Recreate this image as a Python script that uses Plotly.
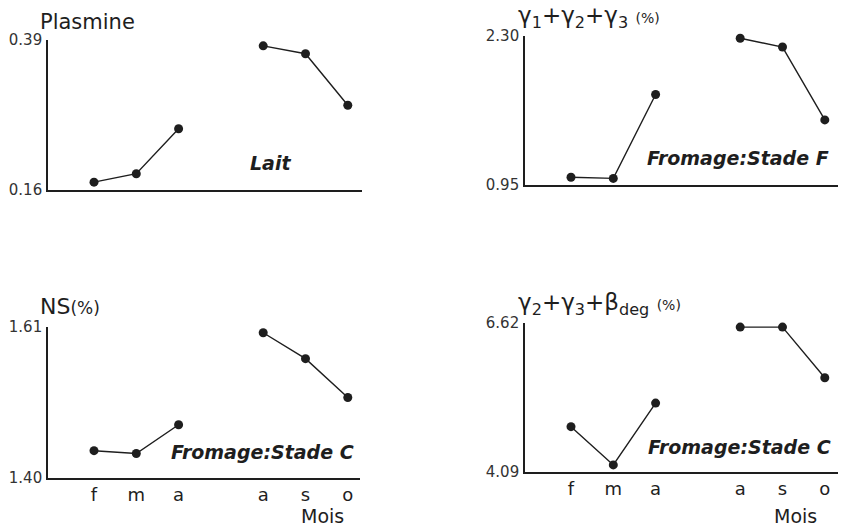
import plotly.graph_objects as go

# ---- data ----
months_1 = ["f", "m", "a"]
months_2 = ["a", "s", "o"]

plasmine_1 = [0.172, 0.185, 0.254]
plasmine_2 = [0.381, 0.369, 0.290]
gamma123_1 = [1.02, 1.01, 1.77]
gamma123_2 = [2.28, 2.20, 1.54]
ns_1 = [1.438, 1.434, 1.474]
ns_2 = [1.602, 1.566, 1.512]
g23b_1 = [4.86, 4.21, 5.26]
g23b_2 = [6.55, 6.55, 5.69]

yticks_plasmine = [0.16, 0.39]
yticks_gamma123 = [0.95, 2.30]
yticks_ns = [1.40, 1.61]
yticks_g23b = [4.09, 6.62]

# numeric positions for the months (gap between the two periods)
x1 = [i + 1 for i in range(len(months_1))]
x2 = [i + 2 + len(months_1) for i in range(len(months_2))]
xticks = x1 + x2
xlabels = months_1 + months_2

W, H = 843, 528
INK = "#1e1e1e"
FONT = "DejaVu Sans, Liberation Sans, sans-serif"

panels = [
    ("", plasmine_1, plasmine_2, yticks_plasmine, (48, 362), (40, 190), False),
    ("2", gamma123_1, gamma123_2, yticks_gamma123, (525, 838), (36, 185), False),
    ("3", ns_1, ns_2, yticks_ns, (48, 360), (327, 478), True),
    ("4", g23b_1, g23b_2, yticks_g23b, (525, 838), (323, 472), True),
]

fig = go.Figure()
layout = {}
for suf, s1, s2, yt, xd, yd, showx in panels:
    xa = "x" + suf
    ya = "y" + suf
    for xs, ys in ((x1, s1), (x2, s2)):
        fig.add_trace(go.Scatter(
            x=xs, y=ys, xaxis=xa, yaxis=ya, mode="lines+markers",
            line=dict(color=INK, width=1.4),
            marker=dict(color=INK, size=9),
            cliponaxis=False, showlegend=False, hoverinfo="skip"))
    left_px, right_px = xd
    unit = 42.3
    x_lo = x1[0] - 46 / unit
    x_hi = x_lo + (right_px - left_px) / unit
    layout["xaxis" + suf] = dict(
        domain=[left_px / W, right_px / W], anchor=ya, range=[x_lo, x_hi],
        showline=True, linecolor=INK, linewidth=1.6, showgrid=False, zeroline=False,
        tickmode="array", tickvals=xticks, ticktext=xlabels, ticks="",
        showticklabels=showx, tickfont=dict(family=FONT, size=18, color=INK),
        automargin=False, fixedrange=True)
    top_px, bot_px = yd
    layout["yaxis" + suf] = dict(
        domain=[1 - bot_px / H, 1 - top_px / H], anchor=xa, range=yt,
        showline=True, linecolor=INK, linewidth=1.6, showgrid=False, zeroline=False,
        tickmode="array", tickvals=yt, ticktext=["%.2f" % v for v in yt], ticks="",
        ticklabelstandoff=1, automargin=False,
        tickfont=dict(family=FONT, size=15, color="#333333"), fixedrange=True)

fig.update_layout(**layout)

anns = []
def ann(text, x, y, size, xanchor="left", italic=False, bold=False):
    anns.append(dict(text=text, x=x / W, y=1 - y / H, xref="paper", yref="paper",
                     xanchor=xanchor, yanchor="middle", showarrow=False,
                     font=dict(family=FONT, size=size, color=INK,
                               style="italic" if italic else "normal",
                               weight=700 if bold else 400)))

# titles
ann("Plasmine", 38, 22, 21)
ann("γ<sub>1</sub>+γ<sub>2</sub>+γ<sub>3</sub> <span style='font-size:14px'>(%)</span>", 516, 17, 23)
ann("NS<span style='font-size:17px'>(%)</span>", 38, 306, 22)
ann("γ<sub>2</sub>+γ<sub>3</sub>+β<sub>deg</sub> <span style='font-size:14px'>(%)</span>", 516, 304, 23)

# notes
ann("Lait", 248, 163, 19, italic=True, bold=True)
ann("Fromage:Stade F", 645, 158, 19, italic=True, bold=True)
ann("Fromage:Stade C", 169, 452, 19, italic=True, bold=True)
ann("Fromage:Stade C", 646, 447, 19, italic=True, bold=True)

# x-axis titles
ann("Mois", 322, 516, 19, xanchor="center")
ann("Mois", 795, 516, 19, xanchor="center")

fig.update_layout(
    annotations=anns, width=W, height=H,
    margin=dict(l=0, r=0, t=0, b=0, autoexpand=False),
    paper_bgcolor="white", plot_bgcolor="white",
    font=dict(family=FONT, color=INK))

fig.write_html(
    "out.html", config={"displayModeBar": False},
    post_script=("document.documentElement.style.margin='0px';"
                 "document.body.style.margin='0px';document.body.style.padding='0px';"
                 "document.body.style.overflow='hidden';"))
